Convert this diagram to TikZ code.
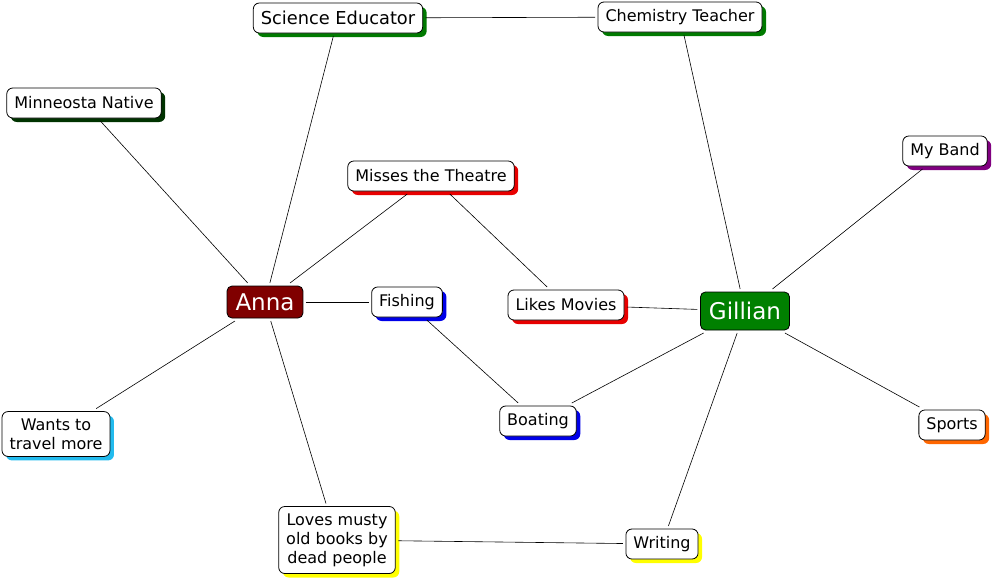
\documentclass[tikz,border=0pt]{standalone}
\usepackage{fontspec}
\setmainfont{DejaVu Sans}
\usepackage{xcolor}
\usetikzlibrary{shadows, positioning}

\definecolor{annared}{HTML}{800000}
\definecolor{gilgreen}{HTML}{008000}
\definecolor{shgreen}{HTML}{007A00}
\definecolor{shdark}{HTML}{003300}
\definecolor{shred}{HTML}{E80000}
\definecolor{shblue}{HTML}{0000E8}
\definecolor{shpurple}{HTML}{800080}
\definecolor{shcyan}{HTML}{22BBEE}
\definecolor{shorange}{HTML}{FF6600}
\definecolor{shyellow}{HTML}{FFFF00}

\tikzset{
    item/.style={draw=black, fill=white, rounded corners=6pt, line width=0.8pt,
        inner xsep=7.5pt, inner ysep=7pt, minimum height=30pt, outer sep=3pt, align=center,
        font=\fontsize{16}{19}\selectfont,
        general shadow={fill=#1, shadow xshift=4pt, shadow yshift=-4pt}},
    person/.style={draw=black, fill=#1, text=white, rounded corners=5pt, line width=0.8pt,
        inner xsep=8.5pt, inner ysep=5pt, minimum height=32pt, outer sep=3pt,
        font=\fontsize{23}{26}\selectfont},
    link/.style={line width=0.6pt}
}

\begin{document}
\begin{tikzpicture}[x=1pt, y=-1pt]
    \useasboundingbox (0,0) rectangle (994,581);

    % Hauptpersonen
    \node[person=annared] (anna) at (265,302) {Anna};
    \node[person=gilgreen, minimum height=38pt] (gillian) at (745,311) {Gillian};

    % Stichworte
    \node[item=shgreen, font=\fontsize{17.8}{19}\selectfont] (educator) at (338,18) {Science Educator};
    \node[item=shgreen] (chemistry) at (680,17) {Chemistry Teacher};
    \node[item=shdark] (native) at (84,103) {Minneosta Native};
    \node[item=shred] (theatre) at (431,176) {Misses the Theatre};
    \node[item=shpurple] (band) at (945,151) {My Band};
    \node[item=shblue] (fishing) at (407,302) {Fishing};
    \node[item=shred] (movies) at (566,305) {Likes Movies};
    \node[item=shcyan] (travel) at (56,434) {Wants to\\travel more};
    \node[item=shblue] (boating) at (538,421) {Boating};
    \node[item=shorange] (sports) at (952,425) {Sports};
    \node[item=shyellow] (books) at (337,540) {Loves musty\\old books by\\dead people};
    \node[item=shyellow] (writing) at (662,544) {Writing};

    % Verbindungen
    \draw[link] (educator) -- (chemistry);
    \draw[link] (educator) -- (anna);
    \draw[link] (chemistry) -- (gillian);
    \draw[link] (native) -- (anna);
    \draw[link] (theatre) -- (anna);
    \draw[link] (theatre) -- (movies);
    \draw[link] (band) -- (gillian);
    \draw[link] (anna) -- (fishing);
    \draw[link] (anna) -- (travel);
    \draw[link] (anna) -- (books);
    \draw[link] (fishing) -- (boating);
    \draw[link] (movies) -- (gillian);
    \draw[link] (gillian) -- (boating);
    \draw[link] (gillian) -- (sports);
    \draw[link] (gillian) -- (writing);
    \draw[link] (books) -- (writing);
\end{tikzpicture}
\end{document}
